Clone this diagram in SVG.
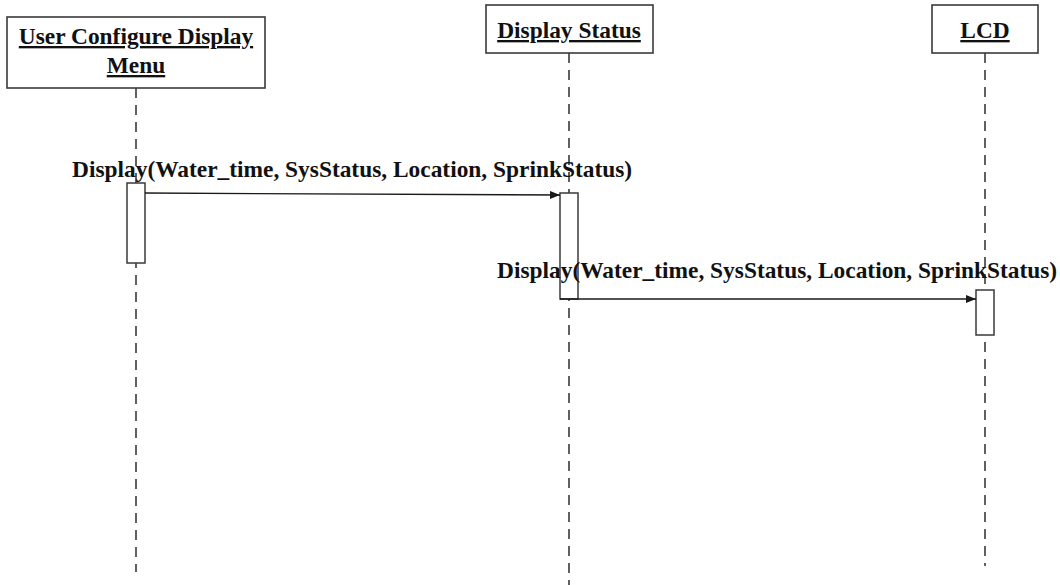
<svg xmlns="http://www.w3.org/2000/svg" width="1060" height="585" viewBox="0 0 1060 585">
  <defs>
    <marker id="arrowhead" markerWidth="10" markerHeight="8" refX="10" refY="4" orient="auto" markerUnits="userSpaceOnUse">
      <path d="M0,0 L10,4 L0,8 Z" fill="#1a1a1a"/>
    </marker>
    <style>
      .box { fill: #ffffff; stroke: #3a3a3a; stroke-width: 1.6; }
      .act { fill: #ffffff; stroke: #3a3a3a; stroke-width: 1.5; }
      .life { stroke: #3a3a3a; stroke-width: 1.6; stroke-dasharray: 10 7; fill: none; }
      .msg { stroke: #1a1a1a; stroke-width: 1.3; fill: none; marker-end: url(#arrowhead); }
      .title { font-family: "Liberation Serif", "Times New Roman", serif; font-weight: bold; font-size: 23.4px; fill: #111111; text-anchor: middle; text-decoration: underline; }
      .label { font-family: "Liberation Serif", "Times New Roman", serif; font-weight: bold; font-size: 23.4px; fill: #111111; }
    </style>
  </defs>
  <rect width="1060" height="585" fill="#ffffff"/>

  <!-- lifelines -->
  <g id="lifelines">
    <line class="life" x1="136" y1="88" x2="136" y2="572"/>
    <line class="life" x1="569" y1="53" x2="569" y2="585"/>
    <line class="life" x1="985" y1="53" x2="985" y2="566"/>
  </g>

  <!-- participants -->
  <g id="user-configure-display-menu">
    <rect class="box" x="7" y="17" width="258" height="71"/>
    <text class="title" x="136" y="44">User Configure Display</text>
    <text class="title" x="136" y="73">Menu</text>
  </g>
  <g id="display-status">
    <rect class="box" x="486" y="5" width="167" height="48"/>
    <text class="title" x="569" y="38">Display Status</text>
  </g>
  <g id="lcd">
    <rect class="box" x="932" y="5" width="106" height="48"/>
    <text class="title" x="985" y="38">LCD</text>
  </g>

  <!-- activation bars -->
  <g id="activations">
    <rect class="act" x="127" y="183" width="18" height="80"/>
    <rect class="act" x="560" y="193" width="18" height="106"/>
    <rect class="act" x="976" y="290" width="18" height="45"/>
  </g>

  <!-- messages -->
  <g id="connectors">
    <line class="msg" x1="145" y1="193" x2="560" y2="195"/>
    <line class="msg" x1="560" y1="299" x2="976" y2="299"/>
  </g>
  <g id="message-labels">
    <text class="label" x="72" y="177">Display(Water_time, SysStatus, Location, SprinkStatus)</text>
    <text class="label" x="497" y="278">Display(Water_time, SysStatus, Location, SprinkStatus)</text>
  </g>
</svg>
